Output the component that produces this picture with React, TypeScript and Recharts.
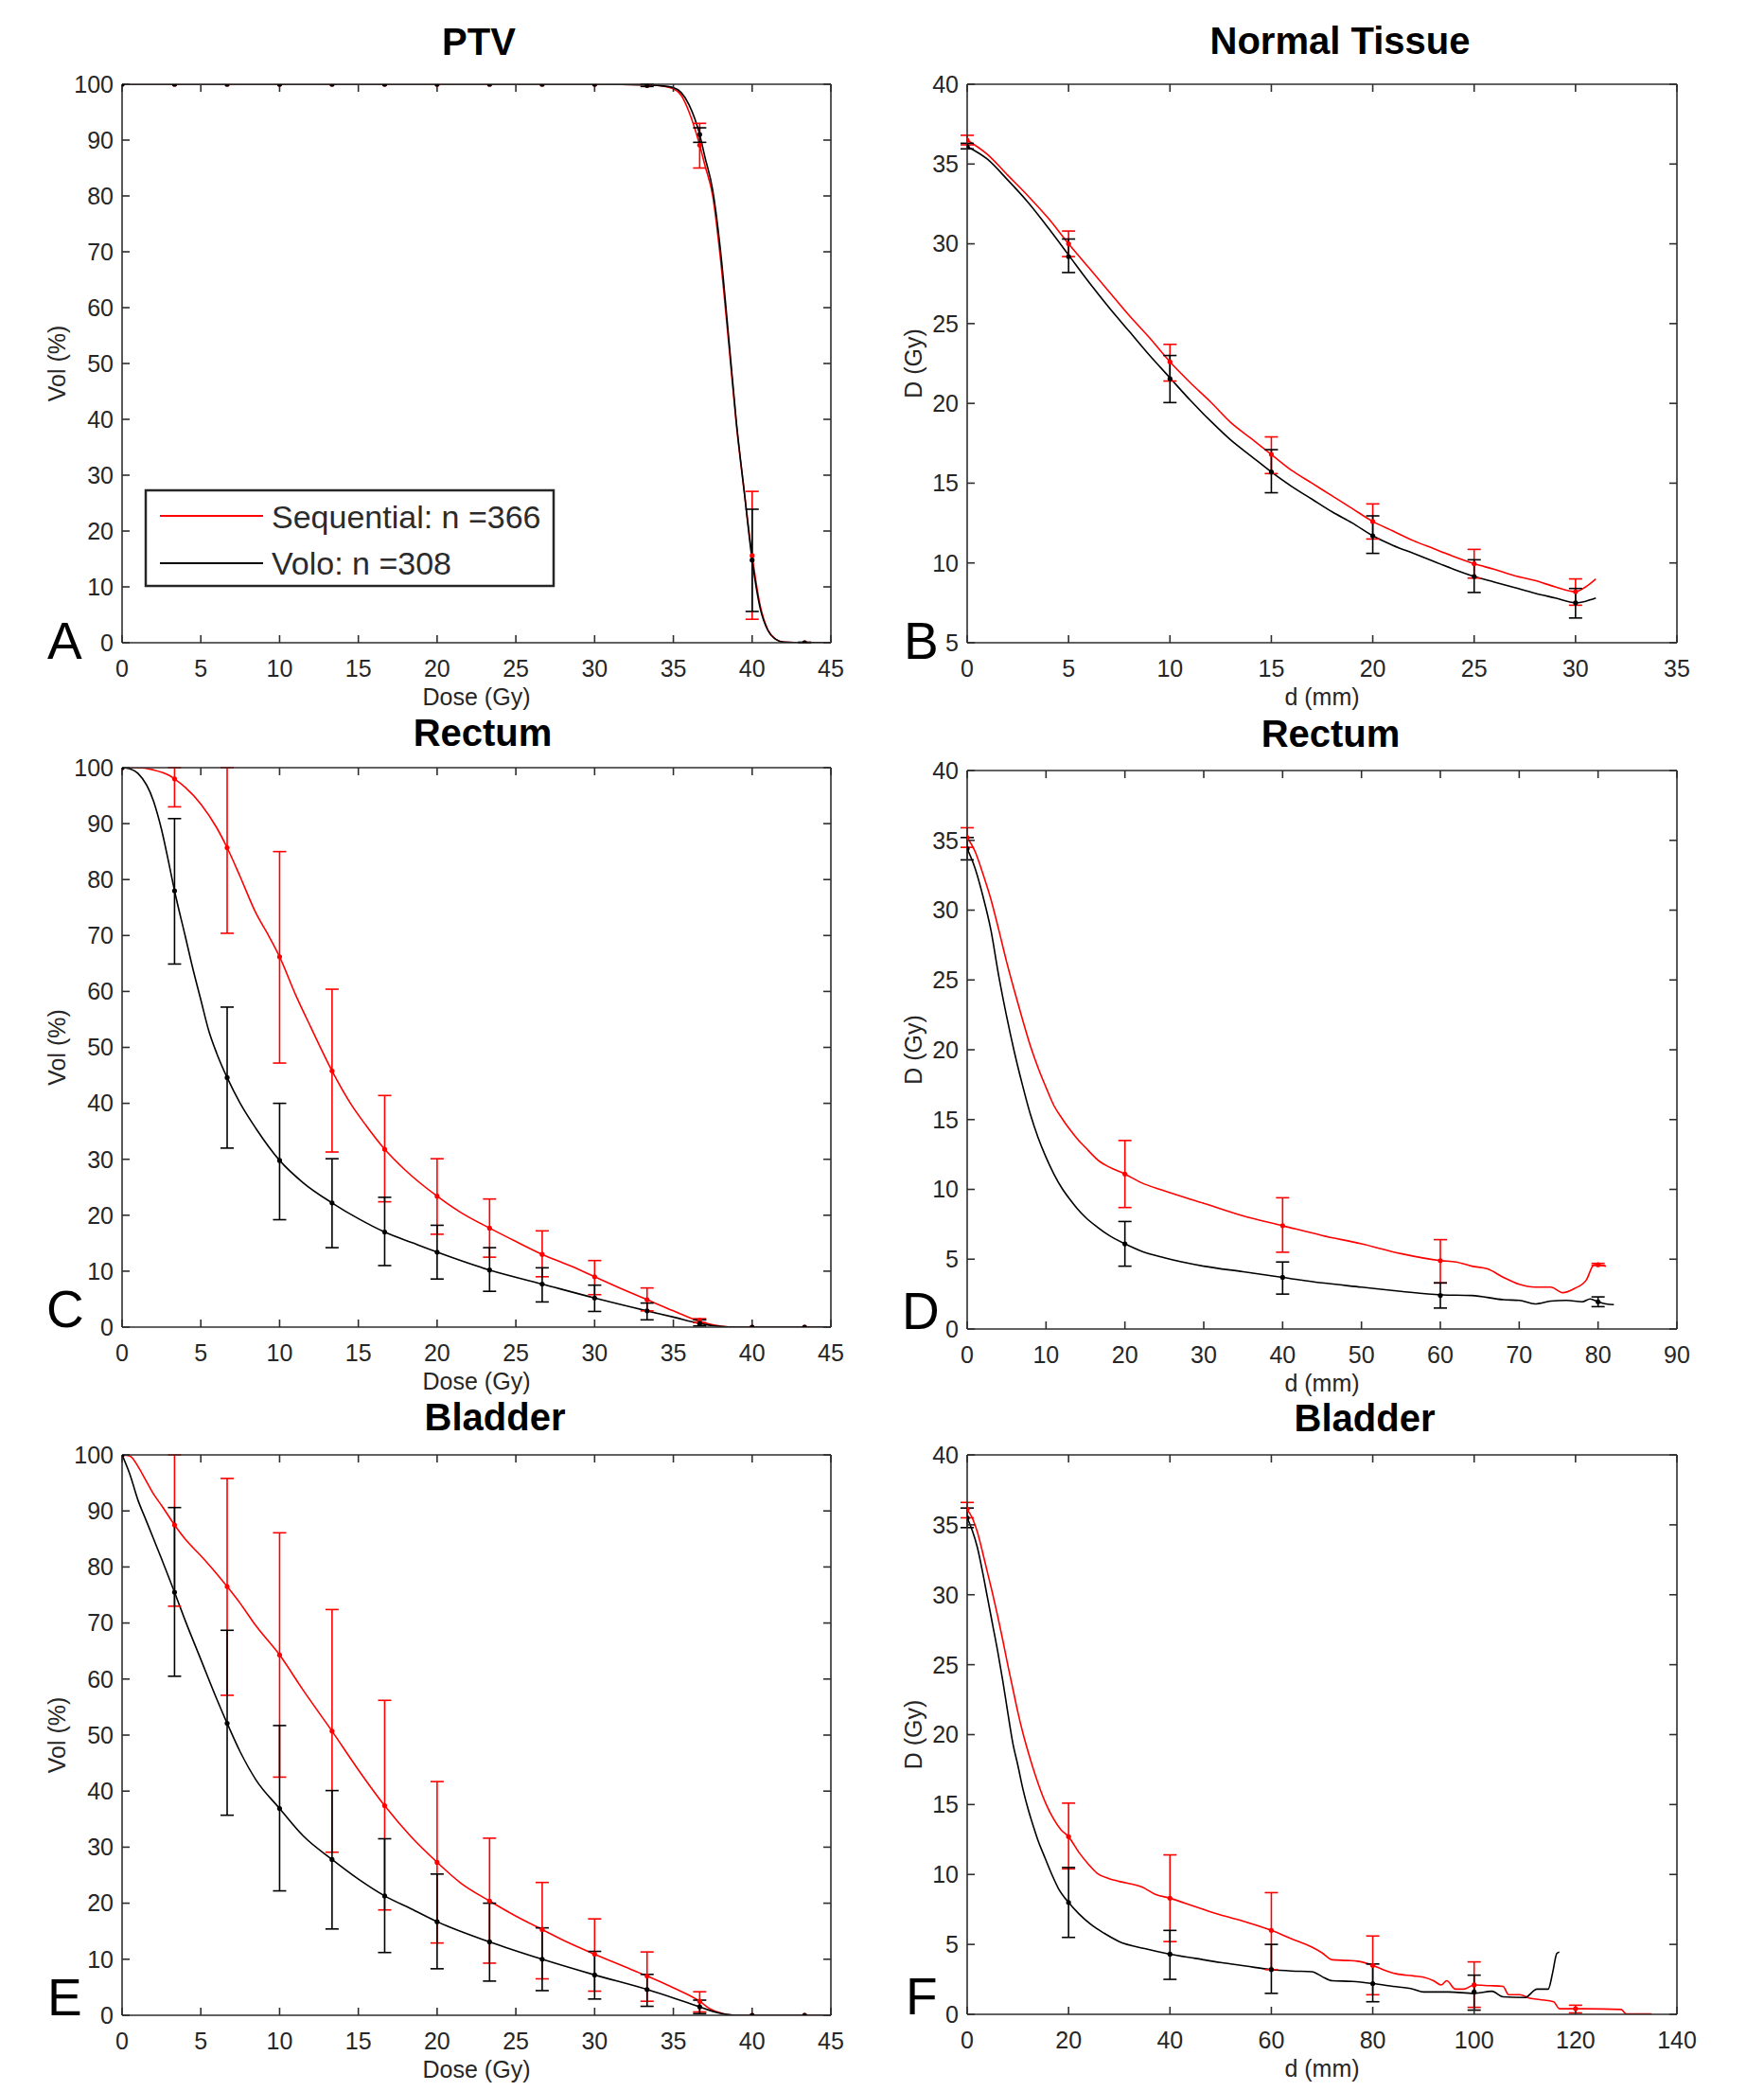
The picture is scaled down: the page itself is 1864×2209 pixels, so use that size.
import React from 'react';
import { ComposedChart, Line, Scatter, XAxis, YAxis, ErrorBar } from 'recharts';

type Pt = [number, number];
type Num = number | null;

const RED = '#ff0000';
const BLACK = '#000000';
const AXIS = '#2e2e2e';
const FONT = '"Liberation Sans", Arial, sans-serif';

// ---- ticks ----
const doseTicks = [0, 5, 10, 15, 20, 25, 30, 35, 40, 45];
const volTicks = [0, 10, 20, 30, 40, 50, 60, 70, 80, 90, 100];
const ntXTicks = [0, 5, 10, 15, 20, 25, 30, 35];
const ntYTicks = [5, 10, 15, 20, 25, 30, 35, 40];
const rdXTicks = [0, 10, 20, 30, 40, 50, 60, 70, 80, 90];
const bfXTicks = [0, 20, 40, 60, 80, 100, 120, 140];
const dTicks = [0, 5, 10, 15, 20, 25, 30, 35, 40];

// marker positions
const doseMarks = [0, 3.33, 6.67, 10, 13.33, 16.67, 20, 23.33, 26.67, 30, 33.33, 36.67, 40, 43.33];
const ntMarks = [0, 5, 10, 15, 20, 25, 30];
const rdMarks = [0, 20, 40, 60, 80];
const bfMarks = [0, 20, 40, 60, 80, 100, 120];

// ---- A: PTV ----
const ptvSeqCurve: Pt[] = [[0, 100], [20, 100], [30, 100], [33.33, 99.9], [34, 99.8], [35, 99.2], [35.5, 98], [36, 95], [36.67, 89.1], [37, 85.5], [37.5, 80], [38, 68.5], [38.5, 54], [39, 39], [39.5, 27], [40, 15.6], [40.5, 6.8], [41, 2.3], [41.5, 0.6], [42, 0.1], [43.33, 0], [45, 0]];
const ptvVoloCurve: Pt[] = [[0, 100], [20, 100], [30, 100], [33.33, 99.9], [34, 99.8], [35, 99.4], [35.5, 98.5], [36, 96.3], [36.67, 91], [37, 87], [37.5, 81], [38, 70], [38.5, 55], [39, 39.5], [39.5, 27], [40, 14.8], [40.5, 6.3], [41, 2.2], [41.5, 0.6], [42, 0.1], [43.33, 0], [45, 0]];
const ptvSeqMean = [100, 100, 100, 100, 100, 100, 100, 100, 100, 100, 99.8, 89.1, 15.6, 0];
const ptvSeqLo: Num[] = [null, null, null, null, null, null, null, null, null, null, null, 85, 4.2, null];
const ptvSeqHi: Num[] = [null, null, null, null, null, null, null, null, null, null, null, 93, 27.1, null];
const ptvVoloMean = [100, 100, 100, 100, 100, 100, 100, 100, 100, 100, 99.8, 91, 14.8, 0];
const ptvVoloLo: Num[] = [null, null, null, null, null, null, null, null, null, null, 99.6, 89.6, 5.6, 0];
const ptvVoloHi: Num[] = [null, null, null, null, null, null, null, null, null, null, 100, 92.2, 23.9, 0.1];

// ---- B: Normal tissue ----
const ntSeqCurve: Pt[] = [[0, 36.5], [1, 35.6], [2, 34.3], [3, 33], [4, 31.6], [5, 30], [6, 28.5], [7, 27], [8, 25.5], [9, 24.1], [10, 22.6], [11, 21.3], [12, 20.1], [13, 18.8], [14, 17.8], [15, 16.8], [16, 15.8], [17, 15], [18, 14.2], [19, 13.4], [20, 12.6], [21, 12], [22, 11.4], [23, 10.9], [24, 10.4], [25, 9.95], [26, 9.6], [27, 9.2], [28, 8.9], [29, 8.5], [30, 8.2], [30.5, 8.5], [31, 9]];
const ntVoloCurve: Pt[] = [[0, 36.1], [1, 35.3], [2, 34], [3, 32.6], [4, 31], [5, 29.3], [6, 27.6], [7, 26], [8, 24.5], [9, 23], [10, 21.6], [11, 20.2], [12, 18.9], [13, 17.7], [14, 16.7], [15, 15.7], [16, 14.8], [17, 14], [18, 13.2], [19, 12.5], [20, 11.7], [21, 11.1], [22, 10.6], [23, 10.1], [24, 9.6], [25, 9.15], [26, 8.8], [27, 8.45], [28, 8.1], [29, 7.8], [30, 7.5], [30.5, 7.6], [31, 7.8]];
const ntSeqMean = [36.5, 30, 22.6, 16.8, 12.6, 9.95, 8.2];
const ntSeqLo: Num[] = [36.2, 29.2, 21.4, 15.6, 11.5, 9.05, 7.35];
const ntSeqHi: Num[] = [36.8, 30.8, 23.7, 17.9, 13.7, 10.85, 9];
const ntVoloMean = [36.1, 29.2, 21.55, 15.7, 11.7, 9.15, 7.5];
const ntVoloLo: Num[] = [35.95, 28.2, 20.05, 14.4, 10.6, 8.15, 6.55];
const ntVoloHi: Num[] = [36.3, 30.3, 23, 17.1, 12.95, 10.2, 8.4];

// ---- C: Rectum DVH ----
const rcSeqCurve: Pt[] = [[0, 100], [1, 100], [2, 99.6], [3, 98.6], [3.33, 98], [4, 96.5], [5, 93.5], [6, 89.3], [6.67, 85.7], [7.5, 80.5], [8.5, 74], [9.3, 70], [10, 66.2], [11, 59.5], [12, 53.5], [13.33, 45.8], [14.5, 40], [15.5, 36], [16.67, 31.8], [18, 28], [20, 23.4], [21.5, 20.5], [23.33, 17.7], [25, 15.3], [26.67, 13], [28.5, 10.9], [30, 9], [31.5, 7.1], [33.33, 4.9], [35, 2.9], [36.67, 1], [37.5, 0.4], [38.5, 0.05], [40, 0], [45, 0]];
const rcVoloCurve: Pt[] = [[0, 100], [0.5, 99.8], [1, 99], [2, 94], [2.5, 89], [3, 82.5], [3.33, 78], [4, 70], [4.5, 64], [5, 58.5], [5.5, 53], [6, 49], [6.67, 44.6], [7.5, 40], [8.5, 35.5], [10, 29.8], [11.5, 25.8], [13.33, 22.2], [15, 19.4], [16.67, 17], [18.5, 15], [20, 13.4], [23.33, 10.2], [26.67, 7.7], [30, 5.2], [33.33, 2.9], [35, 1.8], [36.67, 0.65], [37.5, 0.25], [38.5, 0.05], [40, 0], [45, 0]];
const rcSeqMean = [100, 98, 85.7, 66.2, 45.8, 31.8, 23.4, 17.7, 13, 9, 4.9, 1.2, 0, 0];
const rcSeqLo: Num[] = [null, 93, 70.4, 47.2, 31.3, 22.4, 16.6, 12.5, 9, 5.8, 2.9, 0.8, null, null];
const rcSeqHi: Num[] = [null, 100, 100, 85, 60.4, 41.4, 30.1, 22.9, 17.2, 11.9, 7, 1.5, null, null];
const rcVoloMean = [100, 78, 44.6, 29.8, 22.2, 17, 13.4, 10.2, 7.7, 5.2, 2.9, 0.65, 0, 0];
const rcVoloLo: Num[] = [null, 64.9, 32, 19.2, 14.2, 11, 8.6, 6.4, 4.5, 2.8, 1.3, 0.2, null, null];
const rcVoloHi: Num[] = [null, 90.9, 57.2, 40, 30.1, 23.2, 18.2, 14.2, 10.6, 7.5, 4.3, 1.3, null, null];

// ---- D: Rectum dose vs distance ----
const rdSeqCurve: Pt[] = [[0, 35.2], [1, 34.2], [2, 32.6], [3, 30.8], [4, 28.6], [5, 26.3], [6, 24.2], [7, 22.2], [8, 20.3], [9, 18.7], [10, 17.3], [11, 16], [12, 15.1], [13, 14.3], [14, 13.6], [15, 13], [16.8, 12], [18, 11.6], [20, 11.1], [22, 10.5], [25, 9.9], [30, 9], [35, 8.1], [40, 7.4], [45, 6.7], [50, 6.1], [55, 5.4], [60, 4.9], [62, 4.8], [64, 4.5], [66, 4.3], [68, 3.7], [70, 3.2], [72, 3], [74, 3], [75.5, 2.6], [77, 2.9], [78.5, 3.5], [79.5, 4.6], [81, 4.5]];
const rdVoloCurve: Pt[] = [[0, 34.4], [1, 33], [2, 31], [3, 28.6], [4, 25.3], [5, 22.4], [6, 19.8], [7, 17.5], [8, 15.4], [9, 13.7], [10, 12.3], [11, 11.1], [12, 10.1], [13, 9.3], [14, 8.6], [15, 8], [16.5, 7.3], [18, 6.7], [20, 6.1], [22, 5.6], [25, 5.1], [30, 4.5], [35, 4.1], [40, 3.7], [45, 3.3], [50, 3], [55, 2.7], [60, 2.45], [64, 2.4], [68, 2.1], [70, 2.05], [72, 1.8], [74, 2], [76, 2.05], [78, 1.95], [79, 2.15], [80, 1.95], [81, 1.8], [82, 1.75]];
const rdSeqMean = [35.2, 11.1, 7.4, 4.9, 4.6];
const rdSeqLo: Num[] = [34.5, 8.7, 5.5, 3.3, 4.55];
const rdSeqHi: Num[] = [35.9, 13.5, 9.4, 6.4, 4.7];
const rdVoloMean = [34.4, 6.1, 3.7, 2.4, 1.95];
const rdVoloLo: Num[] = [33.6, 4.5, 2.5, 1.5, 1.6];
const rdVoloHi: Num[] = [35.2, 7.7, 4.8, 3.3, 2.3];

// ---- E: Bladder DVH ----
const beSeqCurve: Pt[] = [[0, 100], [0.5, 99.8], [1, 98], [1.5, 95.5], [2, 93], [2.5, 91], [3.33, 87.5], [4, 85], [5, 82], [6, 78.8], [6.67, 76.5], [7.5, 73.5], [8.5, 69.5], [10, 64.3], [11.5, 58], [13.33, 50.7], [15, 43.8], [16.67, 37.4], [18.3, 32], [20, 27.3], [21.5, 23.6], [23.33, 20.4], [25, 17.7], [26.67, 15.3], [28.3, 13], [30, 10.9], [31.7, 8.9], [33.33, 7], [35, 4.9], [36.67, 2.5], [37.3, 1.2], [38, 0.4], [38.7, 0.05], [40, 0], [45, 0]];
const beVoloCurve: Pt[] = [[0, 100], [0.5, 96.5], [1, 92], [1.5, 88.5], [2, 85], [2.5, 81.5], [3.33, 75.5], [4, 70.5], [5, 63.5], [6, 56.5], [6.67, 52.1], [7.5, 47], [8.5, 42], [10, 36.9], [11.5, 32], [13.33, 27.8], [15, 24.3], [16.67, 21.3], [18.5, 18.8], [20, 16.7], [23.33, 13.1], [26.67, 10], [30, 7.2], [33.33, 4.6], [35, 3.1], [36.67, 1.5], [37.5, 0.7], [38.5, 0.1], [39, 0], [45, 0]];
const beSeqMean = [100, 87.5, 76.5, 64.3, 50.7, 37.4, 27.3, 20.4, 15.3, 10.9, 7, 2.5, 0, 0];
const beSeqLo: Num[] = [null, 73, 57.1, 42.5, 29.1, 18.8, 12.9, 9.3, 6.5, 4.3, 2.5, 0.6, null, null];
const beSeqHi: Num[] = [null, 100, 95.8, 86.1, 72.4, 56.2, 41.7, 31.6, 23.7, 17.2, 11.3, 4.2, null, null];
const beVoloMean = [100, 75.5, 52.1, 36.9, 27.8, 21.3, 16.7, 13.1, 10, 7.2, 4.6, 1.5, 0, 0];
const beVoloLo: Num[] = [null, 60.5, 35.7, 22.2, 15.4, 11.2, 8.3, 6.1, 4.4, 2.9, 1.6, 0.3, null, null];
const beVoloHi: Num[] = [null, 90.6, 68.7, 51.7, 40.1, 31.5, 25.2, 20, 15.6, 11.4, 7.3, 2.7, null, null];

// ---- F: Bladder dose vs distance ----
const bfSeqCurve: Pt[] = [[0, 36.1], [1, 35.5], [2, 34.5], [3, 33.1], [4, 31.6], [5, 30.1], [6, 28.5], [7, 26.8], [8, 25], [9, 23.3], [10, 21.6], [11, 20.1], [12, 18.8], [13, 17.6], [14, 16.5], [15.6, 15], [17, 14], [18.5, 13.2], [20, 12.7], [22, 11.6], [24, 10.7], [25.6, 10.1], [28, 9.7], [30, 9.5], [34.5, 9.1], [37, 8.6], [40, 8.3], [45, 7.7], [50, 7.1], [55, 6.6], [60, 6], [64, 5.4], [68, 4.8], [70, 4.4], [72, 3.9], [75, 3.85], [77, 3.8], [80, 3.5], [82, 3.2], [84.6, 2.9], [88, 2.75], [90, 2.65], [92, 2.4], [93.5, 2.1], [94.6, 2.4], [96.3, 1.8], [98, 1.8], [100, 2.1], [103, 2.05], [105.7, 2], [106.8, 1.4], [109, 1.4], [111, 1.15], [113, 1.05], [115.7, 0.9], [116.8, 0.4], [122, 0.4], [129, 0.35], [130, 0.03], [135, 0.03]];
const bfVoloCurve: Pt[] = [[0, 35.5], [1, 34.6], [2, 33.4], [3, 31.7], [4, 29.8], [5, 27.9], [6, 26], [7, 23.9], [8, 21.6], [9, 19.4], [10, 17.8], [11, 16.1], [12, 14.7], [13, 13.5], [14, 12.4], [15, 11.5], [16.7, 10], [18, 9], [20, 8], [22, 7.2], [24.5, 6.4], [27, 5.8], [30, 5.2], [35, 4.7], [40, 4.3], [45, 4], [50, 3.7], [55, 3.45], [60, 3.2], [64, 3.1], [68, 3.05], [70, 2.7], [72, 2.4], [76, 2.35], [80, 2.2], [84, 2], [88, 1.8], [90, 1.6], [95, 1.6], [100, 1.5], [103.5, 1.65], [105.7, 1.25], [110, 1.2], [112.4, 1.8], [114.6, 1.8], [115.5, 3], [116.3, 4.35], [116.8, 4.45]];
const bfSeqMean = [36.1, 12.7, 8.3, 6, 3.5, 2.1, 0.4];
const bfSeqLo: Num[] = [35.5, 10.4, 5.2, 3.2, 1.4, 0.5, 0.1];
const bfSeqHi: Num[] = [36.6, 15.1, 11.4, 8.7, 5.6, 3.75, 0.65];
const bfVoloMean = [35.5, 8, 4.3, 3.2, 2.2, 1.6];
const bfVoloLo: Num[] = [34.8, 5.5, 2.5, 1.5, 0.9, 0.3];
const bfVoloHi: Num[] = [36.2, 10.5, 6, 5, 3.6, 2.8];

const toCurve = (pts: Pt[]) => pts.map(([x, y]) => ({ x, y }));
const toMarks = (xs: number[], mean: number[], lo: Num[], hi: Num[]) =>
    mean.map((y, i) => {
        const l = lo[i];
        const h = hi[i];
        return { x: xs[i], y, err: l == null || h == null ? undefined : [y - l, h - y] };
    });

interface SeriesDef {
    color: string;
    curve: Pt[];
    xs: number[];
    mean: number[];
    lo: Num[];
    hi: Num[];
}

interface PanelProps {
    left: number;
    top: number;
    w: number;
    h: number;
    yAxisW: number;
    xDomain: [number, number];
    xTicks: number[];
    yDomain: [number, number];
    yTicks: number[];
    xLabel: string;
    yLabel: string;
    series: SeriesDef[];
}

const tickStyle = { fill: '#262626', fontSize: 25, fontFamily: FONT };
const labelStyle = { fill: '#262626', fontSize: 25, fontFamily: FONT };
const X_AXIS_H = 114;
const PAD = 30; // room above and right of the box for edge tick labels

const Dot = (color: string) => (p: any) => <circle cx={p.cx} cy={p.cy} r={2.6} fill={color} stroke="none" />;

const Panel: React.FC<PanelProps> = ({ left, top, w, h, yAxisW, xDomain, xTicks, yDomain, yTicks, xLabel, yLabel, series }) => {
    const blank = () => '';
    return (
        <div style={{ position: 'absolute', left: left - yAxisW, top: top - PAD }}>
            <ComposedChart
                width={yAxisW + w + PAD}
                height={PAD + h + X_AXIS_H}
                margin={{ top: PAD - 1, right: PAD - 1, bottom: 0, left: 0 }}
                style={{ overflow: 'visible' }}
            >
                <XAxis
                    xAxisId="b"
                    type="number"
                    dataKey="x"
                    domain={xDomain}
                    ticks={xTicks}
                    interval={0}
                    allowDataOverflow
                    height={X_AXIS_H}
                    tickSize={-8}
                    tickMargin={26}
                    tick={tickStyle}
                    stroke={AXIS}
                    strokeWidth={1.6}
                    label={{ value: xLabel, position: 'center', ...labelStyle }}
                />
                <XAxis
                    xAxisId="t"
                    orientation="top"
                    type="number"
                    dataKey="x"
                    domain={xDomain}
                    ticks={xTicks}
                    interval={0}
                    allowDataOverflow
                    height={1}
                    tickSize={-8}
                    tickFormatter={blank}
                    stroke={AXIS}
                    strokeWidth={1.6}
                />
                <YAxis
                    yAxisId="l"
                    type="number"
                    dataKey="y"
                    domain={yDomain}
                    ticks={yTicks}
                    interval={0}
                    allowDataOverflow
                    width={yAxisW}
                    tickSize={-8}
                    tickMargin={17}
                    tick={tickStyle}
                    stroke={AXIS}
                    strokeWidth={1.6}
                    label={{ value: yLabel, position: 'center', angle: -90, ...labelStyle }}
                />
                <YAxis
                    yAxisId="r"
                    orientation="right"
                    type="number"
                    dataKey="y"
                    domain={yDomain}
                    ticks={yTicks}
                    interval={0}
                    allowDataOverflow
                    width={1}
                    tickSize={-8}
                    tickFormatter={blank}
                    stroke={AXIS}
                    strokeWidth={1.6}
                />
                {/* invisible series so the top and right frame axes are in use */}
                <Line xAxisId="t" yAxisId="r" data={toCurve(series[0].curve)} dataKey="y" stroke="none" dot={false} activeDot={false} isAnimationActive={false} />
                {series.map((s, i) => (
                    <Line
                        key={`l${i}`}
                        xAxisId="b"
                        yAxisId="l"
                        data={toCurve(s.curve)}
                        dataKey="y"
                        type="monotone"
                        stroke={s.color}
                        strokeWidth={1.6}
                        dot={false}
                        activeDot={false}
                        isAnimationActive={false}
                    />
                ))}
                {series.map((s, i) => (
                    <Scatter
                        key={`s${i}`}
                        xAxisId="b"
                        yAxisId="l"
                        data={toMarks(s.xs, s.mean, s.lo, s.hi)}
                        dataKey="y"
                        shape={Dot(s.color)}
                        isAnimationActive={false}
                    >
                        <ErrorBar dataKey="err" direction="y" width={7} stroke={s.color} strokeWidth={1.6} />
                    </Scatter>
                ))}
            </ComposedChart>
        </div>
    );
};

const titles = [
    { text: 'PTV', x: 506, y: 58 },
    { text: 'Normal Tissue', x: 1416, y: 57 },
    { text: 'Rectum', x: 510, y: 788 },
    { text: 'Rectum', x: 1406, y: 789 },
    { text: 'Bladder', x: 523, y: 1511 },
    { text: 'Bladder', x: 1442, y: 1512 },
];

const letters = [
    { text: 'A', x: 50, y: 696 },
    { text: 'B', x: 955, y: 696 },
    { text: 'C', x: 49, y: 1402 },
    { text: 'D', x: 953, y: 1404 },
    { text: 'E', x: 50, y: 2129 },
    { text: 'F', x: 957, y: 2128 },
];

const App: React.FC = () => {
    const pair = (seq: Omit<SeriesDef, 'color'>, volo: Omit<SeriesDef, 'color'>): SeriesDef[] => [
        { color: RED, ...seq },
        { color: BLACK, ...volo },
    ];
    return (
        <div style={{ position: 'absolute', left: 0, top: 0, width: 1864, height: 2209, background: '#fff', fontFamily: FONT }}>
            <Panel
                left={129} top={89} w={749} h={590} yAxisW={138}
                xDomain={[0, 45]} xTicks={doseTicks} yDomain={[0, 100]} yTicks={volTicks}
                xLabel="Dose (Gy)" yLabel="Vol (%)"
                series={pair(
                    { curve: ptvSeqCurve, xs: doseMarks, mean: ptvSeqMean, lo: ptvSeqLo, hi: ptvSeqHi },
                    { curve: ptvVoloCurve, xs: doseMarks, mean: ptvVoloMean, lo: ptvVoloLo, hi: ptvVoloHi },
                )}
            />
            <Panel
                left={1022} top={89} w={750} h={590} yAxisW={114}
                xDomain={[0, 35]} xTicks={ntXTicks} yDomain={[5, 40]} yTicks={ntYTicks}
                xLabel="d (mm)" yLabel="D (Gy)"
                series={pair(
                    { curve: ntSeqCurve, xs: ntMarks, mean: ntSeqMean, lo: ntSeqLo, hi: ntSeqHi },
                    { curve: ntVoloCurve, xs: ntMarks, mean: ntVoloMean, lo: ntVoloLo, hi: ntVoloHi },
                )}
            />
            <Panel
                left={129} top={811} w={749} h={591} yAxisW={138}
                xDomain={[0, 45]} xTicks={doseTicks} yDomain={[0, 100]} yTicks={volTicks}
                xLabel="Dose (Gy)" yLabel="Vol (%)"
                series={pair(
                    { curve: rcSeqCurve, xs: doseMarks, mean: rcSeqMean, lo: rcSeqLo, hi: rcSeqHi },
                    { curve: rcVoloCurve, xs: doseMarks, mean: rcVoloMean, lo: rcVoloLo, hi: rcVoloHi },
                )}
            />
            <Panel
                left={1022} top={814} w={750} h={590} yAxisW={114}
                xDomain={[0, 90]} xTicks={rdXTicks} yDomain={[0, 40]} yTicks={dTicks}
                xLabel="d (mm)" yLabel="D (Gy)"
                series={pair(
                    { curve: rdSeqCurve, xs: rdMarks, mean: rdSeqMean, lo: rdSeqLo, hi: rdSeqHi },
                    { curve: rdVoloCurve, xs: rdMarks, mean: rdVoloMean, lo: rdVoloLo, hi: rdVoloHi },
                )}
            />
            <Panel
                left={129} top={1537} w={749} h={592} yAxisW={138}
                xDomain={[0, 45]} xTicks={doseTicks} yDomain={[0, 100]} yTicks={volTicks}
                xLabel="Dose (Gy)" yLabel="Vol (%)"
                series={pair(
                    { curve: beSeqCurve, xs: doseMarks, mean: beSeqMean, lo: beSeqLo, hi: beSeqHi },
                    { curve: beVoloCurve, xs: doseMarks, mean: beVoloMean, lo: beVoloLo, hi: beVoloHi },
                )}
            />
            <Panel
                left={1022} top={1537} w={750} h={591} yAxisW={114}
                xDomain={[0, 140]} xTicks={bfXTicks} yDomain={[0, 40]} yTicks={dTicks}
                xLabel="d (mm)" yLabel="D (Gy)"
                series={pair(
                    { curve: bfSeqCurve, xs: bfMarks, mean: bfSeqMean, lo: bfSeqLo, hi: bfSeqHi },
                    { curve: bfVoloCurve, xs: bfMarks.slice(0, 6), mean: bfVoloMean, lo: bfVoloLo, hi: bfVoloHi },
                )}
            />
            <svg width={1864} height={2209} style={{ position: 'absolute', left: 0, top: 0, pointerEvents: 'none' }}>
                {titles.map((t, i) => (
                    <text key={`t${i}`} x={t.x} y={t.y} textAnchor="middle" fontSize={40} fontWeight="bold" fill="#000" fontFamily={FONT}>
                        {t.text}
                    </text>
                ))}
                {letters.map((l, i) => (
                    <text key={`p${i}`} x={l.x} y={l.y} fontSize={55} fill="#000" fontFamily={FONT}>
                        {l.text}
                    </text>
                ))}
                {/* legend of panel A */}
                <rect x={154} y={518} width={431} height={101} fill="#fff" stroke="#262626" strokeWidth={2.5} />
                <line x1={169} x2={278} y1={545} y2={545} stroke={RED} strokeWidth={2} />
                <line x1={169} x2={278} y1={595} y2={595} stroke={BLACK} strokeWidth={2} />
                <text x={287} y={558} fontSize={34} fill="#2b2b2b" fontFamily={FONT}>Sequential: n =366</text>
                <text x={287} y={607} fontSize={34} fill="#2b2b2b" fontFamily={FONT}>Volo: n =308</text>
            </svg>
        </div>
    );
};

export default App;
